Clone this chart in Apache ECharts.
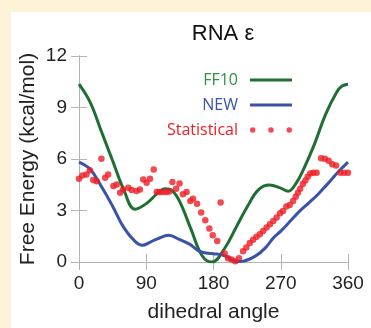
<!DOCTYPE html>
<html>
<head>
<meta charset="utf-8">
<script src="https://cdn.jsdelivr.net/npm/echarts@6/dist/echarts.min.js"></script>
<style>
  html, body { margin: 0; padding: 0; background: #fdf3d9; }
  #chart { width: 371px; height: 328px; }
</style>
</head>
<body>
<div id="chart"></div>
<script>
const ff10Angles = [0, 15, 30, 45, 60, 75, 90, 105, 115, 125, 135, 150, 165, 178, 195, 210, 225, 240, 255, 270, 280, 290, 300, 315, 330, 345, 352, 360];
const ff10Values = [10.36, 9.3, 7.6, 5.9, 4.2, 3.07, 3.4, 4.0, 4.27, 4.15, 3.5, 1.9, 0.35, 0.0, 0.8, 2.0, 3.2, 4.2, 4.48, 4.3, 4.12, 4.55, 5.35, 6.85, 8.6, 9.9, 10.25, 10.36];

const newAngles = [0, 15, 30, 45, 60, 75, 85, 95, 105, 120, 135, 148, 160, 170, 180, 192, 200, 210, 220, 237, 250, 260, 270, 281, 295, 308, 320, 330, 348, 360];
const newValues = [5.82, 5.4, 4.4, 3.25, 2.0, 1.2, 0.97, 1.15, 1.35, 1.56, 1.3, 1.04, 0.65, 0.52, 0.48, 0.41, 0.25, 0.02, 0.05, 0.37, 0.85, 1.4, 1.8, 2.3, 2.95, 3.46, 3.95, 4.42, 5.3, 5.82];

const statAngles = [0, 4.5, 10, 14.5, 19, 23.5, 30, 35, 39, 46, 50.5, 55, 59, 66, 70.5, 77, 81.5, 86, 90.5, 95, 100,
  104, 108, 112.5, 117, 121, 125, 130, 134.5, 139, 144, 149, 152.5, 158, 163.5, 169, 174.5, 179, 185, 189.5,
  195, 199.5, 204, 209, 214, 219.5, 224, 228.5, 233, 237.5, 242, 246.5, 251, 255.5, 260, 264.5, 269, 273,
  277.5, 282, 286.5, 290, 293, 296, 299.5, 303, 306, 309.5, 313.5, 318, 324, 329, 334, 339, 344, 350, 355, 360];
const statValues = [4.85, 5.04, 5.1, 5.35, 4.77, 4.71, 6.01, 4.91, 5.1, 4.42, 4.52, 4.04, 4.23, 4.33, 4.19, 4.13, 4.23, 4.81, 4.62, 4.85, 5.39,
  4.08, 4.08, 4.08, 4.08, 4.1, 4.66, 4.27, 4.58, 3.94, 4.08, 3.55, 3.69, 3.4, 2.88, 2.43, 1.95, 1.56, 1.23, 3.46,
  0.5, 0.22, 0.15, 0.05, 0.22, 0.62, 0.85, 1.1, 1.29, 1.47, 1.62, 1.81, 2.01, 2.2, 2.39, 2.59, 2.84, 2.97,
  3.23, 3.32, 3.55, 3.8, 4.04, 4.27, 4.55, 4.75, 4.97, 5.16, 5.2, 5.2, 6.05, 6.01, 5.9, 5.7, 5.62, 5.2, 5.2, 5.2];

const xTicks = [0, 90, 180, 270, 360];

const green = "#1f6e33";
const blue = "#3a52a8";
const red = "#ee1d24";
const axisGray = "#b3b3b3";
const font = "Liberation Sans";

// legend icons: a bar centred in a 42x6 box, and three dots
const barIcon = "path://M0,0h0.01v0.01h-0.01zM0,1.6h42v2.8h-42zM41.99,5.99h0.01v0.01h-0.01z";
const dotsIcon = "path://M0.3,3a2.7,2.7 0 1,0 5.4,0a2.7,2.7 0 1,0 -5.4,0M18.3,3a2.7,2.7 0 1,0 5.4,0a2.7,2.7 0 1,0 -5.4,0M36.3,3a2.7,2.7 0 1,0 5.4,0a2.7,2.7 0 1,0 -5.4,0";

const zip = (xs, ys) => xs.map((x, i) => [x, ys[i]]);

const chart = echarts.init(document.getElementById("chart"));

const xBase = {
  type: "value",
  min: xTicks[0],
  max: xTicks[xTicks.length - 1],
  interval: 90,
  splitLine: { show: false },
  axisLine: { lineStyle: { color: axisGray } },
  axisTick: { inside: true, length: 8, lineStyle: { color: axisGray } },
};
const yBase = {
  type: "value",
  min: 0,
  max: 12,
  interval: 3,
  splitLine: { show: false },
  axisLine: { show: true, lineStyle: { color: axisGray } },
  axisTick: { show: true, inside: true, length: 8, lineStyle: { color: axisGray } },
};

chart.setOption({
  backgroundColor: "#fdf3d9",
  animation: false,
  graphic: [
    {
      type: "rect",
      z: -10,
      shape: { x: 11, y: 12, width: 360, height: 316 },
      style: { fill: "#ffffff" },
    },
  ],
  title: {
    text: "RNA ε",
    left: 218,
    textAlign: "center",
    top: 18,
    textStyle: { fontFamily: font, fontSize: 22, fontWeight: "normal", color: "#111" },
  },
  grid: { left: 79, right: 23, top: 56, bottom: 65 },
  legend: {
    orient: "vertical",
    right: 74,
    top: 67,
    align: "right",
    itemWidth: 42,
    itemHeight: 6,
    itemGap: 9,
    textStyle: { fontFamily: "Open Sans", fontSize: 16, padding: [0, 7, 0, 0] },
    data: [
      { name: "FF10", icon: barIcon, textStyle: { color: "#2f8f42" } },
      { name: "NEW", icon: barIcon, textStyle: { color: blue } },
      { name: "Statistical", icon: dotsIcon, textStyle: { color: red } },
    ],
  },
  xAxis: [
    {
      ...xBase,
      position: "bottom",
      axisLabel: { fontFamily: font, fontSize: 19, color: "#222", margin: 12 },
      name: "dihedral angle",
      nameLocation: "middle",
      nameGap: 40,
      nameMoveOverlap: false,
      nameTextStyle: { fontFamily: font, fontSize: 21, color: "#222" },
    },
    { ...xBase, position: "top", axisLabel: { show: false } },
  ],
  yAxis: [
    {
      ...yBase,
      position: "left",
      axisLabel: { fontFamily: font, fontSize: 19, color: "#222", margin: 12 },
      name: "Free Energy (kcal/mol)",
      nameLocation: "middle",
      nameGap: 40,
      nameMoveOverlap: false,
      nameTextStyle: { fontFamily: font, fontSize: 21, color: "#222" },
    },
    { ...yBase, position: "right", axisLabel: { show: false } },
  ],
  series: [
    {
      name: "FF10",
      type: "line",
      smooth: 0.4,
      symbol: "none",
      lineStyle: { color: green, width: 3 },
      itemStyle: { color: green },
      data: zip(ff10Angles, ff10Values),
      z: 3,
    },
    {
      name: "NEW",
      type: "line",
      smooth: 0.4,
      symbol: "none",
      lineStyle: { color: blue, width: 3 },
      itemStyle: { color: blue },
      data: zip(newAngles, newValues),
      z: 3,
    },
    {
      name: "Statistical",
      type: "scatter",
      symbolSize: 6.5,
      itemStyle: { color: red },
      data: zip(statAngles, statValues),
      z: 4,
    },
  ],
});
</script>
</body>
</html>
